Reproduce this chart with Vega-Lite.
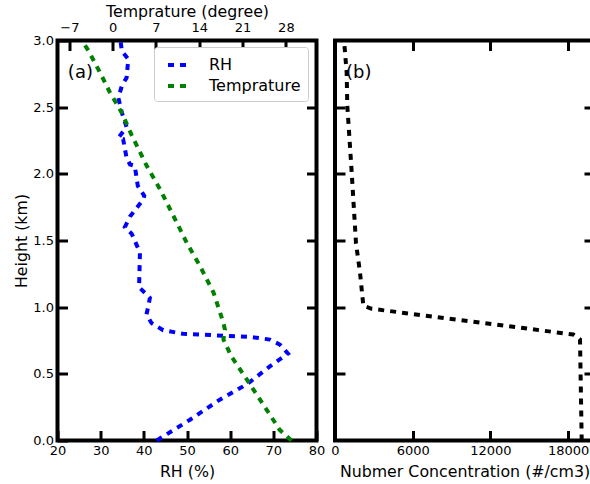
{
  "$schema": "https://vega.github.io/schema/vega-lite/v6.json",
  "padding": {"left": 10.5, "top": 1.5, "right": 0, "bottom": 0},
  "spacing": 18.5,
  "bounds": "flush",
  "datasets": {
    "rh": [
      {"h": 0.0, "rh": 43.0}, {"h": 0.156, "rh": 50.7}, {"h": 0.306, "rh": 57.6}, {"h": 0.406, "rh": 63.0},
      {"h": 0.44, "rh": 64.6}, {"h": 0.556, "rh": 69.2}, {"h": 0.652, "rh": 73.4}, {"h": 0.72, "rh": 71.5},
      {"h": 0.757, "rh": 69.2}, {"h": 0.777, "rh": 64.6}, {"h": 0.8, "rh": 49.1}, {"h": 0.827, "rh": 44.5},
      {"h": 0.88, "rh": 41.8}, {"h": 0.945, "rh": 40.6}, {"h": 1.0, "rh": 41.0}, {"h": 1.07, "rh": 41.4},
      {"h": 1.15, "rh": 38.9}, {"h": 1.41, "rh": 39.1}, {"h": 1.55, "rh": 37.2}, {"h": 1.6, "rh": 35.6},
      {"h": 1.68, "rh": 36.8}, {"h": 1.81, "rh": 39.9}, {"h": 1.835, "rh": 40.1}, {"h": 1.91, "rh": 38.6},
      {"h": 2.06, "rh": 37.9}, {"h": 2.07, "rh": 36.8}, {"h": 2.12, "rh": 36.0}, {"h": 2.26, "rh": 35.2},
      {"h": 2.27, "rh": 34.1}, {"h": 2.35, "rh": 36.0}, {"h": 2.46, "rh": 34.9}, {"h": 2.57, "rh": 34.1},
      {"h": 2.66, "rh": 34.9}, {"h": 2.72, "rh": 36.0}, {"h": 2.86, "rh": 36.4}, {"h": 2.92, "rh": 34.9},
      {"h": 3.0, "rh": 34.6}
    ],
    "temp": [
      {"h": 0.0, "t": 28.9}, {"h": 0.08, "t": 27.0}, {"h": 0.23, "t": 24.9}, {"h": 0.456, "t": 21.7},
      {"h": 0.63, "t": 19.2}, {"h": 0.757, "t": 17.9}, {"h": 0.83, "t": 18.15}, {"h": 0.883, "t": 17.9},
      {"h": 1.11, "t": 16.3}, {"h": 1.31, "t": 14.1}, {"h": 1.48, "t": 12.0}, {"h": 1.635, "t": 10.35},
      {"h": 1.885, "t": 7.65}, {"h": 2.06, "t": 5.5}, {"h": 2.29, "t": 3.07}, {"h": 2.46, "t": 1.45},
      {"h": 2.61, "t": -0.44}, {"h": 2.76, "t": -2.05}, {"h": 2.925, "t": -3.94}, {"h": 3.0, "t": -5.0}
    ],
    "conc": [
      {"h": 0.0, "n": 19050}, {"h": 0.757, "n": 18920}, {"h": 0.795, "n": 18400}, {"h": 0.988, "n": 2830},
      {"h": 1.01, "n": 2190}, {"h": 1.26, "n": 1930}, {"h": 1.48, "n": 1620}, {"h": 2.01, "n": 1290},
      {"h": 2.51, "n": 950}, {"h": 2.76, "n": 900}, {"h": 3.0, "n": 700}
    ]
  },
  "config": {
    "font": "DejaVu Sans",
    "view": {"stroke": "black", "strokeWidth": 4},
    "axis": {
      "domain": false, "grid": false, "tickColor": "black", "tickWidth": 3, "tickSize": -10,
      "labelColor": "black", "labelFontSize": 13, "labelFont": "DejaVu Sans", "labelPadding": 14, "labelFlush": false,
      "titleFontSize": 15.8, "titleFontWeight": "normal", "titleColor": "black", "titleFont": "DejaVu Sans", "titlePadding": 2
    },
    "axisTop": {"labelPadding": 16},
    "axisLeft": {"titlePadding": 3.5},
    "axisBottom": {"titlePadding": 7}
  },
  "hconcat": [
    {
      "width": 259,
      "height": 400,
      "resolve": {"scale": {"x": "independent", "y": "independent"}},
      "layer": [
        {
          "layer": [
            {
              "data": {"name": "rh"},
              "mark": {"type": "line", "strokeWidth": 4, "strokeDash": [6, 6]},
              "encoding": {
                "x": {"field": "rh", "type": "quantitative", "scale": {"domain": [20, 80], "nice": false},
                  "axis": {"orient": "bottom", "title": "RH (%)", "values": [20, 30, 40, 50, 60, 70, 80]}},
                "y": {"field": "h", "type": "quantitative", "scale": {"domain": [0, 3], "nice": false},
                  "axis": {"orient": "left", "title": "Height (km)", "values": [0, 0.5, 1, 1.5, 2, 2.5, 3], "format": ".1f"}},
                "order": {"field": "h"},
                "color": {"datum": "RH", "type": "nominal",
                  "scale": {"domain": ["RH", "Temprature"], "range": ["#0000ff", "#008000"]},
                  "legend": {"orient": "none", "legendX": 96.5, "legendY": 6.5, "title": null,
                    "symbolType": "stroke", "symbolStrokeWidth": 4, "symbolDash": [6, 6], "symbolSize": 324, "symbolOffset": 5,
                    "labelFontSize": 16, "labelColor": "black", "labelOffset": 21, "rowPadding": 2, "padding": 7,
                    "fillColor": "white", "strokeColor": "#cccccc", "cornerRadius": 3}}
              }
            },
            {
              "data": {"values": [{"rh": 22.4, "h": 2.76, "label": "(a)"}]},
              "mark": {"type": "text", "align": "left", "baseline": "middle", "fontSize": 18, "color": "black"},
              "encoding": {
                "x": {"field": "rh", "type": "quantitative", "title": "RH (%)"},
                "y": {"field": "h", "type": "quantitative", "title": "Height (km)"},
                "text": {"field": "label"}
              }
            }
          ]
        },
        {
          "data": {"name": "temp"},
          "mark": {"type": "line", "strokeWidth": 4, "strokeDash": [6, 6]},
          "encoding": {
            "x": {"field": "t", "type": "quantitative", "scale": {"domain": [-8.92, 32.95], "nice": false},
              "axis": {"orient": "top", "title": "Temprature (degree)", "values": [-7, 0, 7, 14, 21, 28]}},
            "y": {"field": "h", "type": "quantitative", "scale": {"domain": [0, 3], "nice": false},
              "axis": {"orient": "right", "title": null, "labels": false, "values": [0.5, 1, 1.5, 2, 2.5]}},
            "order": {"field": "h"},
            "color": {"datum": "Temprature", "type": "nominal"}
          }
        }
      ]
    },
    {
      "width": 259,
      "height": 400,
      "resolve": {"scale": {"x": "independent", "y": "independent"}},
      "layer": [
        {
          "layer": [
            {
              "data": {"name": "conc"},
              "mark": {"type": "line", "strokeWidth": 4, "strokeDash": [6, 6], "color": "black"},
              "encoding": {
                "x": {"field": "n", "type": "quantitative", "scale": {"domain": [0, 20000], "nice": false},
                  "axis": {"orient": "bottom", "title": "Nubmer Concentration (#/cm3)", "values": [0, 6000, 12000, 18000], "format": "d"}},
                "y": {"field": "h", "type": "quantitative", "scale": {"domain": [0, 3], "nice": false},
                  "axis": {"orient": "left", "title": null, "labels": false, "values": [0.5, 1, 1.5, 2, 2.5]}},
                "order": {"field": "h"}
              }
            },
            {
              "data": {"values": [{"n": 850, "h": 2.76, "label": "(b)"}]},
              "mark": {"type": "text", "align": "left", "baseline": "middle", "fontSize": 18, "color": "black"},
              "encoding": {
                "x": {"field": "n", "type": "quantitative", "title": "Nubmer Concentration (#/cm3)"},
                "y": {"field": "h", "type": "quantitative", "title": null},
                "text": {"field": "label"}
              }
            }
          ]
        },
        {
          "data": {"name": "conc"},
          "mark": {"type": "line", "opacity": 0},
          "encoding": {
            "x": {"field": "n", "type": "quantitative", "scale": {"domain": [0, 20000], "nice": false},
              "axis": {"orient": "top", "title": null, "labels": false, "values": [6000, 12000, 18000]}},
            "y": {"field": "h", "type": "quantitative", "scale": {"domain": [0, 3], "nice": false},
              "axis": {"orient": "right", "title": null, "labels": false, "values": [0.5, 1, 1.5, 2, 2.5]}},
            "order": {"field": "h"}
          }
        }
      ]
    }
  ]
}
